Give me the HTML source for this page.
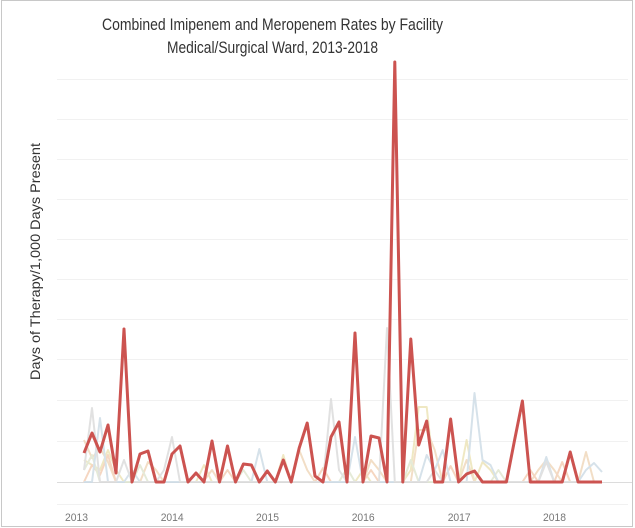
<!DOCTYPE html>
<html>
<head>
<meta charset="utf-8">
<style>
html,body{margin:0;padding:0;background:#fff;}
svg{display:block;}
text{font-family:"Liberation Sans",sans-serif;}
</style>
</head>
<body>
<svg width="635" height="528" viewBox="0 0 635 528" xmlns="http://www.w3.org/2000/svg">
<rect x="0" y="0" width="635" height="528" fill="#fff"/>
<rect x="1.5" y="0.5" width="631" height="526" fill="none" stroke="#c8c8c8" stroke-width="1"/>

<!-- title -->
<text x="102" y="30" font-size="16.5" fill="#333" textLength="341" lengthAdjust="spacingAndGlyphs">Combined Imipenem and Meropenem Rates by Facility</text>
<text x="167" y="53" font-size="16.5" fill="#333" textLength="211" lengthAdjust="spacingAndGlyphs">Medical/Surgical Ward, 2013-2018</text>

<!-- y label -->
<text transform="translate(40,380) rotate(-90)" x="0" y="0" font-size="14" fill="#333" textLength="237" lengthAdjust="spacingAndGlyphs">Days of Therapy/1,000 Days Present</text>

<!-- gridlines -->
<g stroke="#f1f1f1" stroke-width="1">
<line x1="57" y1="79.5" x2="628" y2="79.5"/>
<line x1="57" y1="119.5" x2="628" y2="119.5"/>
<line x1="57" y1="159.5" x2="628" y2="159.5"/>
<line x1="57" y1="199.5" x2="628" y2="199.5"/>
<line x1="57" y1="239.5" x2="628" y2="239.5"/>
<line x1="57" y1="279.5" x2="628" y2="279.5"/>
<line x1="57" y1="319.5" x2="628" y2="319.5"/>
<line x1="57" y1="359.5" x2="628" y2="359.5"/>
<line x1="57" y1="400.5" x2="628" y2="400.5"/>
<line x1="57" y1="441.5" x2="628" y2="441.5"/>
<line x1="57" y1="504.5" x2="628" y2="504.5"/>
</g>
<line x1="57" y1="482.5" x2="632" y2="482.5" stroke="#dcdcdc" stroke-width="1"/>

<!-- faint series -->
<g fill="none" stroke-width="2" stroke-linejoin="round" opacity="0.8">
<polyline stroke="#ece3b5" points="84,460 100,470 108,450 116,470 124,482 196,482 204,465 212,482 275.3,482 283.3,455 291.2,482 355,482 363,470 371,482 402.8,482 410.8,470 418.7,407 426.7,407 434.7,482 458.6,482 466.6,440 474.5,482 482.5,462 490.5,470 498.4,482 602,482"/>
<polyline stroke="#f0d6b8" points="84,440 92,458 100,448 108,462 116,482 140,482 148,462 156,470 164,482 203,482 212,470 219.5,482 291.2,482 299.2,450 307.2,470 315,482 363,482 371,460 379,470 387,482 410.8,482 418.7,430 426.7,430 434.7,450 442.7,482 458.6,482 466.6,460 474.5,482 530.3,482 538.3,470 546.3,460 554.2,470 562.2,482 578.1,482 586,452 594,482 602,482"/>
<polyline stroke="#f3cdb2" points="84,482 92,465 100,475 108,455 116,482 219.5,482 227.5,470 235.5,482 315,482 323,468 331,482 363,482 371,470 379,482 442.7,482 450.6,466 458.6,482 522.4,482 530.3,470 538.3,482 554.2,482 562.2,462 570.2,482 602,482"/>
<polyline stroke="#dfe6cf" points="84,470 92,455 100,482 132,482 140,465 148,482 235.5,482 243.4,470 251.4,482 339,482 347,468 355,482 402.8,482 410.8,460 418.7,482 490.5,482 498.4,470 506.4,482 602,482"/>
<polyline stroke="#cddbe6" points="84,482 92,482 100,418 108,482 124,482 132,470 140,482 251.4,482 259.3,449 267.3,482 347,482 355,437 363,482 418.7,482 426.7,455 434.7,470 442.7,450 450.6,482 466.6,482 474.5,393 482.5,460 490.5,465 498.4,482 538.3,482 546.3,457 554.2,482 578.1,482 586,470 594,463 602,472"/>
<polyline stroke="#dadada" points="84,470 92,408 100,482 116,482 124,460 132,482 156,482 164,470 172,437 180,482 323,482 331,399 339,470 347,482 379,482 387,328 394.8,482 426.7,482 434.7,470 442.7,482 538.3,482 546.3,462 554.2,482 602,482"/>
</g>

<!-- red series -->
<polyline fill="none" stroke="#cc5350" stroke-width="3" stroke-linejoin="round" points="84,453 92,433 100,452 108,425 116,473 124,329 132,482 140,454 148,451 156,482 164,482 172,454 180,446 188,482 196,473 204,482 212,441 219.5,482 227.5,446 235.5,482 243.4,464 251.4,465 259.3,482 267.3,471 275.3,482 283.3,460 291.2,482 299.2,448 307.2,423 315,476 323,482 331,437 339,422 347,482 355,333 363,482 371,436 379,438 387,482 394.8,62 402.8,482 410.8,339 418.7,445 426.7,421 434.7,482 442.7,482 450.6,419 458.6,482 466.6,474 474.5,471 482.5,482 506.4,482 514.4,441 522.4,401 530.3,482 562.2,482 570.2,452 578.1,482 602,482"/>

<!-- x labels -->
<g font-size="11" fill="#777">
<text x="65" y="521" textLength="23" lengthAdjust="spacingAndGlyphs">2013</text>
<text x="160.7" y="521" textLength="23" lengthAdjust="spacingAndGlyphs">2014</text>
<text x="256" y="521" textLength="23" lengthAdjust="spacingAndGlyphs">2015</text>
<text x="351.7" y="521" textLength="23" lengthAdjust="spacingAndGlyphs">2016</text>
<text x="447.7" y="521" textLength="23" lengthAdjust="spacingAndGlyphs">2017</text>
<text x="543" y="521" textLength="23" lengthAdjust="spacingAndGlyphs">2018</text>
</g>
</svg>
</body>
</html>
